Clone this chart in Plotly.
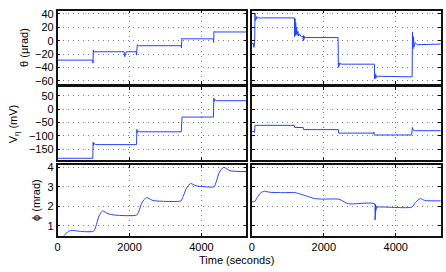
import plotly.graph_objects as go
from plotly.subplots import make_subplots

# theta (urad), left and right runs
theta_l_t = [0, 975, 985, 992, 1005, 1040, 1850, 1868, 1885, 1910, 2185, 2195, 2205, 2215, 2250,
             3435, 3445, 3455, 3480, 4330, 4340, 4350, 4370, 5250]
theta_l_v = [-29, -29, -33.5, -14, -17, -16.5, -16.5, -23.8, -22, -16.5, -16.5, -21.5, -7, -6, -7.5,
             -7.5, -10.5, 3.5, 2.8, 2.8, -2.5, 14, 13, 13]

theta_r_t = [0, 40, 60, 80, 88, 95, 105, 115, 130, 150, 180, 230, 300, 1185, 1190, 1200, 1210,
             1220, 1232, 1245, 1260, 1280, 1300, 1330, 1370, 1425, 1433, 1440, 1450, 1462, 1475,
             1495, 1530, 2398, 2405, 2412, 2420, 2430, 2445, 2465, 2500, 3400, 3407, 3414, 3422,
             3432, 3447, 3470, 3510, 4435, 4445, 4455, 4465, 4478, 4492, 4510, 4540, 4600, 5250]
theta_r_v = [-4, -4, -10, -2, 41, 30, 38, 31, 36, 33, 35, 33.5, 34, 34, 6, 33, 8, 27, 10, 20, 8,
             14, 7, 10, 6, 6, 0, 8, 2, 6, 4, 5, 4.7, 4.7, -40, -30, -38, -33, -36, -34, -35,
             -35, -35, -57, -49, -56, -51, -55, -53, -54, -54, -54, 13, -12, 6, -9, -3, -6, -5, -5]

# V_eta (mV)
v_l_t = [0, 978, 988, 998, 1020, 1060, 2195, 2205, 2215, 2235, 2280, 3440, 3450, 3460, 3490,
         4335, 4345, 4355, 4375, 4420, 5250]
v_l_v = [-184, -184, -124, -136, -128, -133, -133, -76, -90, -82, -85, -85, -30, -30, -30,
         -30, 41, 28, 35, 31, 31]

v_r_t = [0, 60, 75, 90, 1185, 1192, 1428, 1436, 2405, 2412, 3385, 3392, 3400, 4440, 4462,
         4485, 4520, 5250]
v_r_v = [-84, -84, -88, -61, -61, -69, -69, -77, -77, -90, -90, -86, -97, -97, -69, -79, -81, -81]

# phi (mrad)
phi_l_t = [0, 180, 300, 400, 600, 1000, 1060, 1150, 1250, 1400, 1600, 2200, 2260, 2350, 2470,
           2650, 2900, 3430, 3490, 3590, 3700, 3850, 4100, 4350, 4420, 4500, 4620, 4800, 5250]
phi_l_v = [0.3, 0.5, 0.72, 0.77, 0.72, 0.72, 0.95, 1.5, 1.76, 1.62, 1.55, 1.55, 1.75, 2.2, 2.45,
           2.3, 2.26, 2.28, 2.5, 2.95, 3.17, 3.05, 3.0, 3.0, 3.3, 3.75, 4.0, 3.82, 3.78]

phi_r_t = [0, 80, 150, 250, 350, 500, 800, 1200, 1400, 1700, 1900, 2400, 2500, 2650, 2750,
           3418, 3424, 3430, 3436, 3442, 3450, 3460, 3475, 3500, 4450, 4550, 4680, 4760, 4850, 5250]
phi_r_v = [2.24, 2.24, 2.45, 2.7, 2.77, 2.72, 2.7, 2.7, 2.6, 2.42, 2.37, 2.37, 2.3, 2.15, 2.12,
           2.12, 1.3, 2.1, 1.6, 2.02, 1.8, 1.99, 1.92, 1.96, 1.96, 2.2, 2.4, 2.33, 2.29, 2.28]

BLUE = '#2442ff'
W, H = 446, 272

fig = make_subplots(rows=3, cols=2)

series = [
    (theta_l_t, theta_l_v, 1, 1, 'linear'),
    (theta_r_t, theta_r_v, 1, 2, 'linear'),
    (v_l_t, v_l_v, 2, 1, 'linear'),
    (v_r_t, v_r_v, 2, 2, 'linear'),
    (phi_l_t, phi_l_v, 3, 1, 'spline'),
    (phi_r_t, phi_r_v, 3, 2, 'spline'),
]
for t, v, r, c, shape in series:
    fig.add_trace(go.Scatter(x=t, y=v, mode='lines',
                             line=dict(color=BLUE, width=1, shape=shape, smoothing=0.6),
                             showlegend=False), row=r, col=c)

# panel placement in pixels (left, right) and (top, bottom)
xdom = [(55, 245), (250.5, 440.7)]
ydom = [(6.7, 81.7), (85, 160), (165, 237.7)]
yranges = [[-64, 45], [-190, 83], [0.5, 4.13]]
ydticks = [20, 50, 1]

axis_style = dict(showline=True, linecolor='#111', linewidth=1.5, mirror='ticks',
                  ticks='inside', ticklen=3, tickcolor='#111',
                  showgrid=True, gridcolor='#777', gridwidth=1, griddash='1px,4px',
                  zeroline=False, tickfont=dict(size=11, color='black'))

for r in range(3):
    for c in range(2):
        n = r * 2 + c + 1
        sfx = '' if n == 1 else str(n)
        x0, x1 = xdom[c]
        y0, y1 = ydom[r]
        fig.layout['xaxis' + sfx].update(domain=[x0 / W, x1 / W], range=[0, 5250], dtick=2000,
                                         showticklabels=(r == 2), **axis_style)
        fig.layout['yaxis' + sfx].update(domain=[1 - y1 / H, 1 - y0 / H], range=yranges[r],
                                         dtick=ydticks[r], showticklabels=(c == 0), **axis_style)

ylabels = ['θ (μrad)', 'V<sub>η</sub> (mV)', 'ϕ (mrad)']
ylabel_x = [21, 11, 33]
for r, lab in enumerate(ylabels):
    yc = 1 - (ydom[r][0] + ydom[r][1]) / 2 / H
    fig.add_annotation(text=lab, x=ylabel_x[r] / W, y=yc, xref='paper', yref='paper',
                       xanchor='center', yanchor='middle',
                       textangle=-90, showarrow=False, font=dict(size=11, color='black'))

fig.add_annotation(text='Time (seconds)', x=235 / W, y=1 - 263 / H, xref='paper', yref='paper',
                   xanchor='center', yanchor='middle',
                   showarrow=False, font=dict(size=11, color='black'))

fig.update_layout(width=W, height=H, margin=dict(l=0, r=0, t=0, b=0),
                  plot_bgcolor='white', paper_bgcolor='white',
                  font=dict(family='Liberation Sans, Arial, sans-serif', size=11, color='black'))

fig.write_html("out.html", config={'displayModeBar': False},
               post_script="document.body.style.margin='0';")
